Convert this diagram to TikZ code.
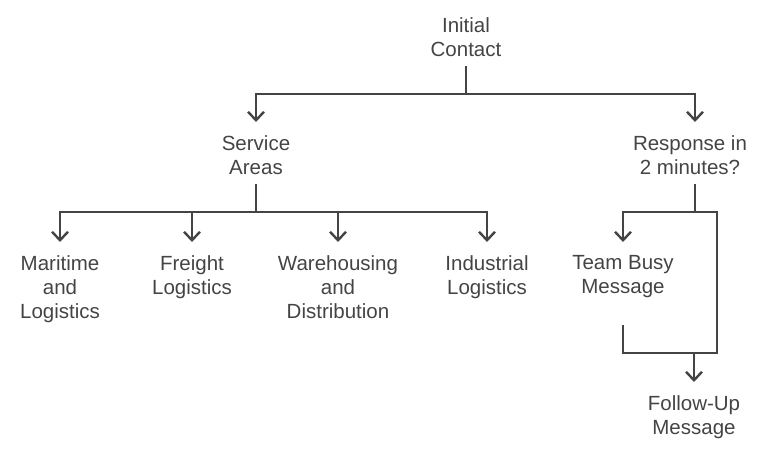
\documentclass[tikz,border=0pt]{standalone}
\usepackage{fontspec}
\setmainfont{Liberation Sans}
\usetikzlibrary{arrows.meta}
\definecolor{ink}{HTML}{444444}
\definecolor{txt}{HTML}{444444}
\tikzset{
  lbl/.style={align=center, anchor=north, inner xsep=2pt, inner ysep=10pt, text=txt,
    font=\fontsize{20.5}{24}\selectfont},
  conn/.style={draw=ink, line width=2.4pt},
  arr/.style={conn, -{Straight Barb[length=8.5pt,width=16pt]}, shorten >=3pt}
}
\begin{document}
\begin{tikzpicture}[x=1pt,y=-1pt]
\useasboundingbox (0,0) rectangle (768,449);
% nodes
\node[lbl] (ic) at (466,7) {Initial\\Contact};
\node[lbl] (sa) at (256,125) {Service\\Areas};
\node[lbl] (rs) at (690,125) {Response in\\2 minutes?};
\node[lbl] (ma) at (60,245) {Maritime\\and\\Logistics};
\node[lbl] (fl) at (192,245) {Freight\\Logistics};
\node[lbl] (wd) at (338,245) {Warehousing\\and\\Distribution};
\node[lbl] (il) at (487,245) {Industrial\\Logistics};
\node[lbl] (tb) at (623,245) {Team Busy\\Message};
\node[lbl] (fu) at (694,385) {Follow-Up\\Message};
% junction coordinates
\coordinate (j1) at (466,94);
\coordinate (j2) at (256,212);
\coordinate (rsx) at (695,0);
\coordinate (rb) at (717,353);
\coordinate (tbo) at (623,325);
% connectors
\draw[arr] (ic.south) -- (ic.south |- j1) -| (sa.north);
\draw[arr] (ic.south |- j1) -| (rsx |- rs.north);
\draw[arr] (sa.south) -- (sa.south |- j2) -| (ma.north);
\draw[arr] (sa.south |- j2) -| (fl.north);
\draw[arr] (sa.south |- j2) -| (wd.north);
\draw[arr] (sa.south |- j2) -| (il.north);
\draw[arr] (rsx |- rs.south) -- (rsx |- j2) -| (tb.north);
\draw[conn] (rsx |- j2) -| (rb) -- (tbo |- rb) -- (tbo);
\draw[arr] (fu.north |- rb) -- (fu.north);
\end{tikzpicture}
\end{document}
